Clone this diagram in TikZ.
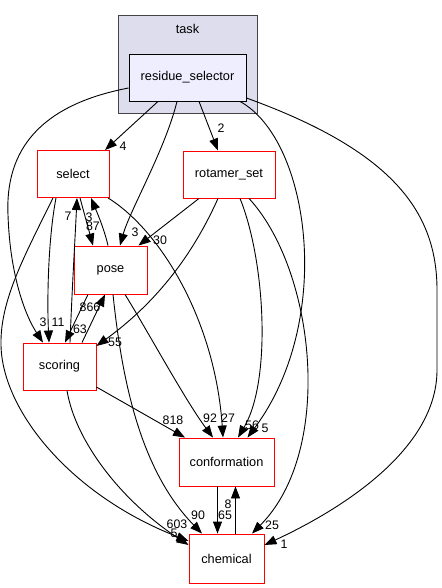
\documentclass[tikz,border=0pt]{standalone}
\usepackage{fontspec}
\setmainfont{Liberation Sans}
\usetikzlibrary{arrows.meta,calc}
\definecolor{clusterfill}{HTML}{DDDDEE}
\definecolor{clusterline}{HTML}{444444}
\definecolor{dirfill}{HTML}{EEEEFF}
\begin{document}
\begin{tikzpicture}[x=1bp,y=-1bp,
  redbox/.style={draw=red, fill=white, line width=0.9bp, inner sep=0pt,
    font=\fontsize{12.8}{14}\selectfont},
  mainbox/.style={draw=black, fill=dirfill, line width=0.9bp, inner sep=0pt,
    font=\fontsize{12.8}{14}\selectfont},
  clusterbox/.style={draw=clusterline, fill=clusterfill, line width=0.9bp, inner sep=0pt},
  dep/.style={draw=black, line width=0.9bp, -{Triangle[length=12bp,width=9bp]}},
  lbl/.style={inner sep=0pt, font=\fontsize{12.4}{13}\selectfont}]
\useasboundingbox (0,0) rectangle (442,588);
% cluster
\node[clusterbox, minimum width=139bp, minimum height=98bp] (task) at (187.5,64) {};
\node[font=\fontsize{12.8}{14}\selectfont, inner sep=0pt] (tasklabel) at (187.5,29) {task};
% nodes
\node[mainbox, minimum width=117bp, minimum height=47bp] (rs) at (187.5,77.5) {residue\_selector};
\node[redbox, minimum width=72bp, minimum height=47bp] (select) at (73,174) {select};
\node[redbox, minimum width=92bp, minimum height=47bp] (rot) at (229,174.5) {rotamer\_set};
\node[redbox, minimum width=73bp, minimum height=48bp] (pose) at (110.5,270) {pose};
\node[redbox, minimum width=73bp, minimum height=47bp] (scoring) at (59.5,366.5) {scoring};
\node[redbox, minimum width=95bp, minimum height=48bp] (conf) at (226.5,462) {conformation};
\node[redbox, minimum width=75bp, minimum height=49bp] (chem) at (226.5,558.5) {chemical};
% edges from residue_selector
\draw[dep] ([xshift=-29.5bp]rs.south) -- ([xshift=32bp]select.north);
\node[lbl] (l4) at (123,146) {4};
\draw[dep] ([xshift=-10.5bp]rs.south) .. controls (165,150) and (130,210) .. ([xshift=9.5bp]pose.north);
\node[lbl] (l3a) at (135,232) {3};
\draw[dep] ([xshift=11.5bp]rs.south) -- ([xshift=-11bp]rot.north);
\node[lbl] (l2) at (221,128) {2};
\draw[dep] ([xshift=52.5bp]rs.south) .. controls (310,140) and (335,320) .. ([xshift=21bp]conf.north);
\node[lbl] (l5a) at (265,428) {5};
\draw[dep] ([yshift=-20.5bp]rs.east) .. controls (390,150) and (437,210) .. (437,290)
  -- (437,370) .. controls (437,450) and (340,510) .. ([yshift=13.5bp]chem.east);
\node[lbl] (l1) at (284,544) {1};
\draw[dep] ([yshift=-10.5bp]rs.west) .. controls (40,105) and (5,150) .. (8,215)
  .. controls (10,275) and (25,315) .. ([xshift=-16.5bp]scoring.north);
\node[lbl] (l3b) at (43,322) {3};
% edges from select
\draw[dep] ([xshift=7bp]select.south) -- ([xshift=-17.5bp]pose.north);
\node[lbl] (l87) at (93,226) {87};
\draw[dep] ([xshift=-17bp]select.south) .. controls (48,240) and (47,300) .. ([xshift=-10.5bp]scoring.north);
\node[lbl] (l11) at (58,322) {11};
\draw[dep] ([xshift=-20bp]select.south) .. controls (25,255) and (0,300) .. (1,345)
  .. controls (2,410) and (70,495) .. ([yshift=17.5bp]chem.west);
\node[lbl] (l5b) at (174,533) {5};
\draw[dep] ([xshift=35bp]select.south) .. controls (160,230) and (215,320) .. ([xshift=-3.5bp]conf.north);
\node[lbl] (l27) at (228,418) {27};
% edges from pose
\draw[dep] ([xshift=-2.5bp]pose.north) .. controls (104,228) and (96,210) .. ([xshift=18bp]select.south);
\node[lbl] (l3c) at (89,217) {3};
\draw[dep] ([xshift=-22.5bp]pose.south) -- ([xshift=5.5bp]scoring.north);
\node[lbl] (l63) at (80,329) {63};
\draw[dep] ([xshift=14.5bp]pose.south) .. controls (150,335) and (185,400) .. ([xshift=-13.5bp]conf.north);
\node[lbl] (l92) at (210,418) {92};
\draw[dep] ([xshift=2.5bp]pose.south) .. controls (122,380) and (140,470) .. ([xshift=-24.5bp]chem.north);
\node[lbl] (l90) at (198,515) {90};
% edges from rotamer_set
\draw[dep] ([xshift=-30bp]rot.south) -- ([xshift=28bp]pose.north);
\node[lbl] (l30) at (160,240) {30};
\draw[dep] ([xshift=-11bp]rot.south) .. controls (195,250) and (160,300) .. ([yshift=20.5bp]scoring.east);
\node[lbl] (l55) at (115,342) {55};
\draw[dep] ([xshift=11bp]rot.south) .. controls (265,260) and (272,380) .. ([xshift=11.5bp]conf.north);
\node[lbl] (l56) at (252,425) {56};
\draw[dep] ([xshift=20bp]rot.south) .. controls (315,270) and (335,450) .. ([xshift=25.5bp]chem.north);
\node[lbl] (l25) at (272,525) {25};
% edges from scoring
\draw[dep] ([xshift=10.5bp]scoring.north) .. controls (72,290) and (75,240) .. ([xshift=4bp]select.south);
\node[lbl] (l7) at (68,216) {7};
\draw[dep] ([xshift=22.5bp]scoring.north) -- ([xshift=-5.5bp]pose.south);
\node[lbl] (l866) at (90,307) {866};
\draw[dep] ([yshift=-20.5bp]scoring.east) -- ([xshift=-41.5bp]conf.north);
\node[lbl] (l818) at (173,420) {818};
\draw[dep] ([xshift=7.5bp]scoring.south) .. controls (75,440) and (120,500) .. ([yshift=13.5bp]chem.west);
\node[lbl] (l603) at (177,524) {603};
% conformation <-> chemical
\draw[dep] ([xshift=-9bp]conf.south) -- ([xshift=-9bp]chem.north);
\node[lbl] (l65) at (225,515) {65};
\draw[dep] ([xshift=9bp]chem.north) -- ([xshift=9bp]conf.south);
\node[lbl] (l8) at (228,504) {8};
\end{tikzpicture}
\end{document}
